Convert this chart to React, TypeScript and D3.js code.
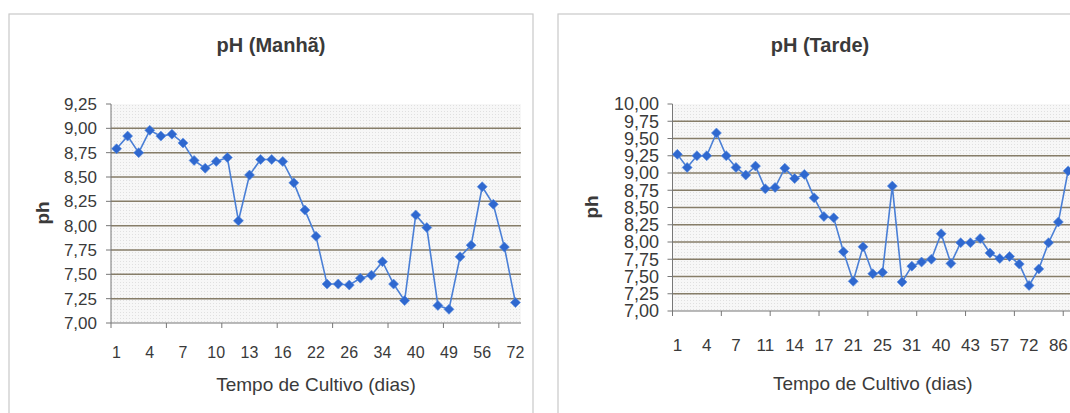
import React from "react";
import * as d3 from "d3";

const daysManha = [1,2,3,4,5,6,7,8,9,10,11,12,13,14,15,16,18,20,22,23,24,26,28,30,34,36,38,40,44,46,49,51,53,56,60,65,72];
const phManha = [8.79,8.92,8.75,8.98,8.92,8.94,8.85,8.67,8.59,8.66,8.70,8.05,8.52,8.68,8.68,8.66,8.44,8.16,7.89,7.40,7.40,7.39,7.46,7.49,7.63,7.40,7.23,8.11,7.98,7.18,7.14,7.68,7.80,8.40,8.22,7.78,7.21];

const daysTarde = [1,2,3,4,5,6,7,8,10,11,12,13,14,15,16,17,18,20,21,22,24,25,27,29,31,34,37,40,41,42,43,48,52,57,62,67,72,76,81,86,90];
const phTarde = [9.27,9.08,9.25,9.25,9.58,9.25,9.08,8.97,9.10,8.77,8.79,9.07,8.92,8.98,8.64,8.37,8.35,7.86,7.43,7.93,7.54,7.56,8.81,7.42,7.65,7.71,7.75,8.12,7.69,7.99,7.99,8.05,7.84,7.76,7.79,7.68,7.37,7.61,7.99,8.29,9.03];

const yTicksManha = [7.0,7.25,7.5,7.75,8.0,8.25,8.5,8.75,9.0,9.25];
const yTicksTarde = [7.0,7.25,7.5,7.75,8.0,8.25,8.5,8.75,9.0,9.25,9.5,9.75,10.0];

const fmt = (v: number) => d3.format(".2f")(v).replace(".", ",");
const FONT = "'Liberation Sans', Arial, sans-serif";

type ChartProps = {
  title: string;
  days: number[];
  values: number[];
  yTicks: number[];
  panel: { x: number; y: number; w: number; h: number };
  plot: { left: number; right: number; top: number; bottom: number };
  titleY: number;
  yLabelSize: number;
  yLabelRight: number;
  xLabelY: number;
  xLabelSize: number;
  axisTitleY: number;
  phX: number;
  phY: number;
  patternId: string;
};

function Chart(p: ChartProps) {
  const x = d3.scaleBand<number>().domain(d3.range(p.days.length)).range([p.plot.left, p.plot.right]);
  const y = d3.scaleLinear().domain([p.yTicks[0], p.yTicks[p.yTicks.length - 1]]).range([p.plot.bottom, p.plot.top]);
  const cx = (i: number) => (x(i) as number) + x.bandwidth() / 2;
  const line = d3.line<number>().x((_, i) => cx(i)).y((d) => y(d));
  const cxTitle = (p.plot.left + p.plot.right) / 2;
  const tickBoundaries = d3.range(0, p.days.length + 1, 5);
  const gridColor = "#867d68";
  const textColor = "#3a3a3a";
  return (
    <g>
      <rect x={p.panel.x} y={p.panel.y} width={p.panel.w} height={p.panel.h} fill="#fff" stroke="#c9c9c9" strokeWidth={1.2} />
      <text x={(p.panel.x + p.panel.x + 524) / 2} y={p.titleY} textAnchor="middle" fontFamily={FONT} fontWeight="bold" fontSize={20} fill={textColor}>
        {p.title}
      </text>
      <rect x={p.plot.left} y={p.plot.top} width={p.plot.right - p.plot.left} height={p.plot.bottom - p.plot.top} fill={`url(#${p.patternId})`} />
      {p.yTicks.slice(1, -1).map((t) => (
        <line key={t} x1={p.plot.left} x2={p.plot.right} y1={y(t)} y2={y(t)} stroke={gridColor} strokeWidth={1.5} />
      ))}
      <line x1={p.plot.left} x2={p.plot.left} y1={p.plot.top} y2={p.plot.bottom} stroke="#777" strokeWidth={1} />
      <line x1={p.plot.left} x2={p.plot.right} y1={p.plot.bottom} y2={p.plot.bottom} stroke="#777" strokeWidth={1.2} />
      {p.yTicks.map((t) => (
        <g key={"yt" + t}>
          <line x1={p.plot.left - 5} x2={p.plot.left} y1={y(t)} y2={y(t)} stroke="#777" />
          <text x={p.yLabelRight} y={y(t)} dy="0.36em" textAnchor="end" fontFamily={FONT} fontSize={p.yLabelSize} fill={textColor}>
            {fmt(t)}
          </text>
        </g>
      ))}
      {tickBoundaries.map((b) => {
        const xx = p.plot.left + b * x.step();
        return <line key={"xt" + b} x1={xx} x2={xx} y1={p.plot.bottom} y2={p.plot.bottom + 5} stroke="#777" />;
      })}
      {p.days.map((d, i) =>
        i % 3 === 0 ? (
          <text key={"xl" + i} x={cx(i)} y={p.xLabelY} textAnchor="middle" fontFamily={FONT} fontSize={p.xLabelSize} fill={textColor}>
            {d}
          </text>
        ) : null
      )}
      <text x={cxTitle} y={p.axisTitleY} textAnchor="middle" fontFamily={FONT} fontSize={19} fill={textColor}>
        Tempo de Cultivo (dias)
      </text>
      <text transform={`translate(${p.phX},${p.phY}) rotate(-90)`} textAnchor="middle" fontFamily={FONT} fontWeight="bold" fontSize={19} fill={textColor}>
        ph
      </text>
      <path d={line(p.values) || ""} fill="none" stroke="#4a7fd6" strokeWidth={1.6} />
      {p.values.map((v, i) => {
        const px = cx(i);
        const py = y(v);
        const r = 5;
        return (
          <path key={"m" + i} d={`M${px},${py - r}L${px + r},${py}L${px},${py + r}L${px - r},${py}Z`} fill="#2f68cf" stroke="#5b8de0" strokeWidth={0.6} />
        );
      })}
    </g>
  );
}

export default function App() {
  return (
    <svg width={1070} height={413} style={{ position: "absolute", left: 0, top: 0, background: "#fff" }}>
      <defs>
        <pattern id="dotsA" width={3} height={3} patternUnits="userSpaceOnUse">
          <rect width={3} height={3} fill="#f7f7f7" />
          <rect width={1} height={1} fill="#e0e0e0" />
        </pattern>
        <pattern id="dotsB" width={3} height={3} patternUnits="userSpaceOnUse">
          <rect width={3} height={3} fill="#f7f7f7" />
          <rect width={1} height={1} fill="#e0e0e0" />
        </pattern>
      </defs>
      <Chart
        title="pH (Manhã)"
        days={daysManha}
        values={phManha}
        yTicks={yTicksManha}
        panel={{ x: 9, y: 14, w: 524, h: 410 }}
        plot={{ left: 111, right: 521, top: 104, bottom: 323 }}
        titleY={52}
        yLabelSize={17}
        yLabelRight={97}
        xLabelY={358}
        xLabelSize={16}
        axisTitleY={391}
        phX={49}
        phY={213}
        patternId="dotsA"
      />
      <Chart
        title="pH (Tarde)"
        days={daysTarde}
        values={phTarde}
        yTicks={yTicksTarde}
        panel={{ x: 558, y: 14, w: 540, h: 410 }}
        plot={{ left: 672.5, right: 1073, top: 104, bottom: 311 }}
        titleY={52}
        yLabelSize={18}
        yLabelRight={659}
        xLabelY={351}
        xLabelSize={17}
        axisTitleY={390}
        phX={598}
        phY={207}
        patternId="dotsB"
      />
    </svg>
  );
}
